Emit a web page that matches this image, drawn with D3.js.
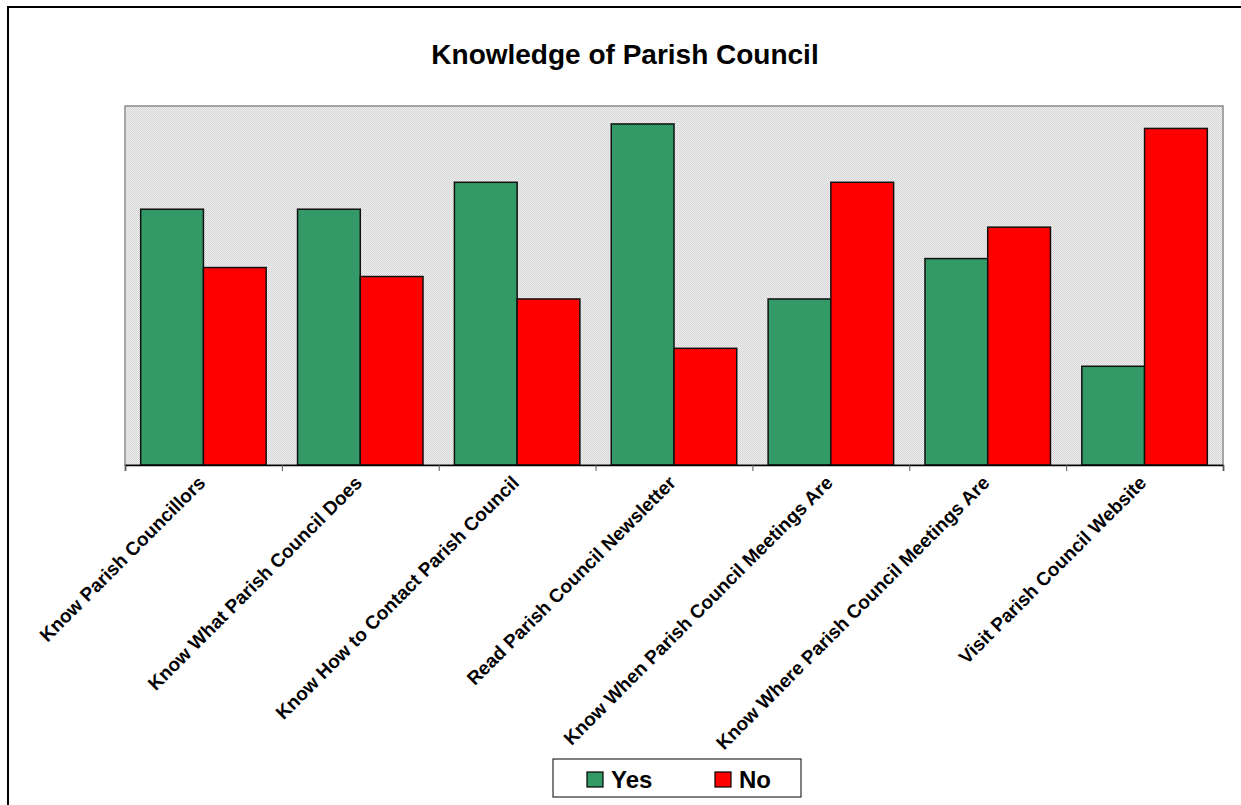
<!DOCTYPE html>
<html>
<head>
<meta charset="utf-8">
<script src="https://cdn.jsdelivr.net/npm/d3@7"></script>
<style>
  body { margin: 0; background: #fff; }
  svg { display: block; font-family: "Liberation Sans", Arial, sans-serif; }
</style>
</head>
<body>
<svg id="chart"></svg>
<script>
// chart data
var categories = [
  "Know Parish Councillors",
  "Know What Parish Council Does",
  "Know How to Contact Parish Council",
  "Read Parish Council Newsletter",
  "Know When Parish Council Meetings Are",
  "Know Where Parish Council Meetings Are",
  "Visit Parish Council Website"
];
var seriesNames = ["Yes", "No"];
var yesValues = [57, 57, 63, 76, 37, 46, 22];
var noValues = [44, 42, 37, 26, 63, 53, 75];
var seriesColors = ["#339966", "#ff0000"];

var screen = {width: 1241, height: 805};
var plot = {left: 125, top: 106, right: 1223, bottom: 465};

var svg = d3.select("#chart")
  .attr("width", screen.width)
  .attr("height", screen.height);

// dotted grey fill of the plot area
var defs = svg.append("defs");
var pat = defs.append("pattern")
  .attr("id", "dots")
  .attr("width", 2).attr("height", 2)
  .attr("patternUnits", "userSpaceOnUse");
pat.append("rect").attr("width", 2).attr("height", 2).attr("fill", "#f0f0f0");
pat.append("rect").attr("width", 1).attr("height", 1).attr("fill", "#d4d4d4");
pat.append("rect").attr("x", 1).attr("y", 1).attr("width", 1).attr("height", 1).attr("fill", "#d4d4d4");

// outer frame (runs off the right and bottom of the picture)
svg.append("rect")
  .attr("x", 8).attr("y", 7)
  .attr("width", 1260).attr("height", 820)
  .attr("fill", "none")
  .attr("stroke", "#000")
  .attr("stroke-width", 2);

svg.append("text")
  .attr("x", 625).attr("y", 64)
  .attr("text-anchor", "middle")
  .attr("font-weight", "bold")
  .attr("font-size", 28)
  .text("Knowledge of Parish Council");

svg.append("rect")
  .attr("x", plot.left).attr("y", plot.top)
  .attr("width", plot.right - plot.left)
  .attr("height", plot.bottom - plot.top)
  .attr("fill", "url(#dots)")
  .attr("stroke", "#8c8c8c")
  .attr("stroke-width", 1.5);

var xScale = d3.scaleBand()
  .domain(categories)
  .range([plot.left, plot.right]);
var xInner = d3.scaleBand()
  .domain(seriesNames)
  .range([0, xScale.bandwidth()])
  .paddingOuter(0.25);
var yScale = d3.scaleLinear()
  .domain([0, 80])
  .range([plot.bottom, plot.top]);

var rows = categories.map(function(c, i){
  return {cat: c, vals: [{s: "Yes", v: yesValues[i]}, {s: "No", v: noValues[i]}]};
});

svg.append("g")
  .selectAll("g")
  .data(rows)
  .enter()
  .append("g")
  .attr("transform", function(d){ return "translate(" + xScale(d.cat) + ",0)"; })
  .selectAll("rect")
  .data(function(d){ return d.vals; })
  .enter()
  .append("rect")
  .attr("x", function(d){ return xInner(d.s); })
  .attr("width", xInner.bandwidth())
  .attr("y", function(d){ return yScale(d.v); })
  .attr("height", function(d){ return plot.bottom - yScale(d.v); })
  .attr("fill", function(d){ return seriesColors[seriesNames.indexOf(d.s)]; })
  .attr("stroke", "#111")
  .attr("stroke-width", 1.5);

// category axis: ticks sit on the group boundaries
var tickScale = d3.scaleLinear()
  .domain([0, categories.length])
  .range([plot.left, plot.right]);
var xAxis = d3.axisBottom(tickScale)
  .tickValues(d3.range(categories.length + 1))
  .tickSize(6)
  .tickFormat("");
var axisG = svg.append("g")
  .attr("transform", "translate(0," + plot.bottom + ")")
  .call(xAxis);
axisG.select(".domain").attr("stroke", "#000").attr("stroke-width", 1.5);
axisG.selectAll(".tick line").attr("stroke", "#555");

svg.append("g")
  .selectAll("text")
  .data(categories)
  .enter()
  .append("text")
  .attr("transform", function(d){
    return "translate(" + (xScale(d) + xScale.bandwidth() / 2 + 3) + "," + 484 + ") rotate(-45)";
  })
  .attr("text-anchor", "end")
  .attr("font-weight", "bold")
  .attr("font-size", 19)
  .text(function(d){ return d; });

// legend
var legend = svg.append("g");
legend.append("rect")
  .attr("x", 553).attr("y", 759)
  .attr("width", 248).attr("height", 38)
  .attr("fill", "#fff")
  .attr("stroke", "#000")
  .attr("stroke-width", 1);
var legendX = [587, 715];
var items = legend.selectAll("g.item")
  .data(seriesNames)
  .enter()
  .append("g")
  .attr("class", "item")
  .attr("transform", function(d, i){ return "translate(" + legendX[i] + ",772)"; });
items.append("rect")
  .attr("width", 16).attr("height", 15)
  .attr("fill", function(d, i){ return seriesColors[i]; })
  .attr("stroke", "#000")
  .attr("stroke-width", 1.2);
items.append("text")
  .attr("x", 24).attr("y", 16)
  .attr("font-weight", "bold")
  .attr("font-size", 24)
  .text(function(d){ return d; });
</script>
</body>
</html>
